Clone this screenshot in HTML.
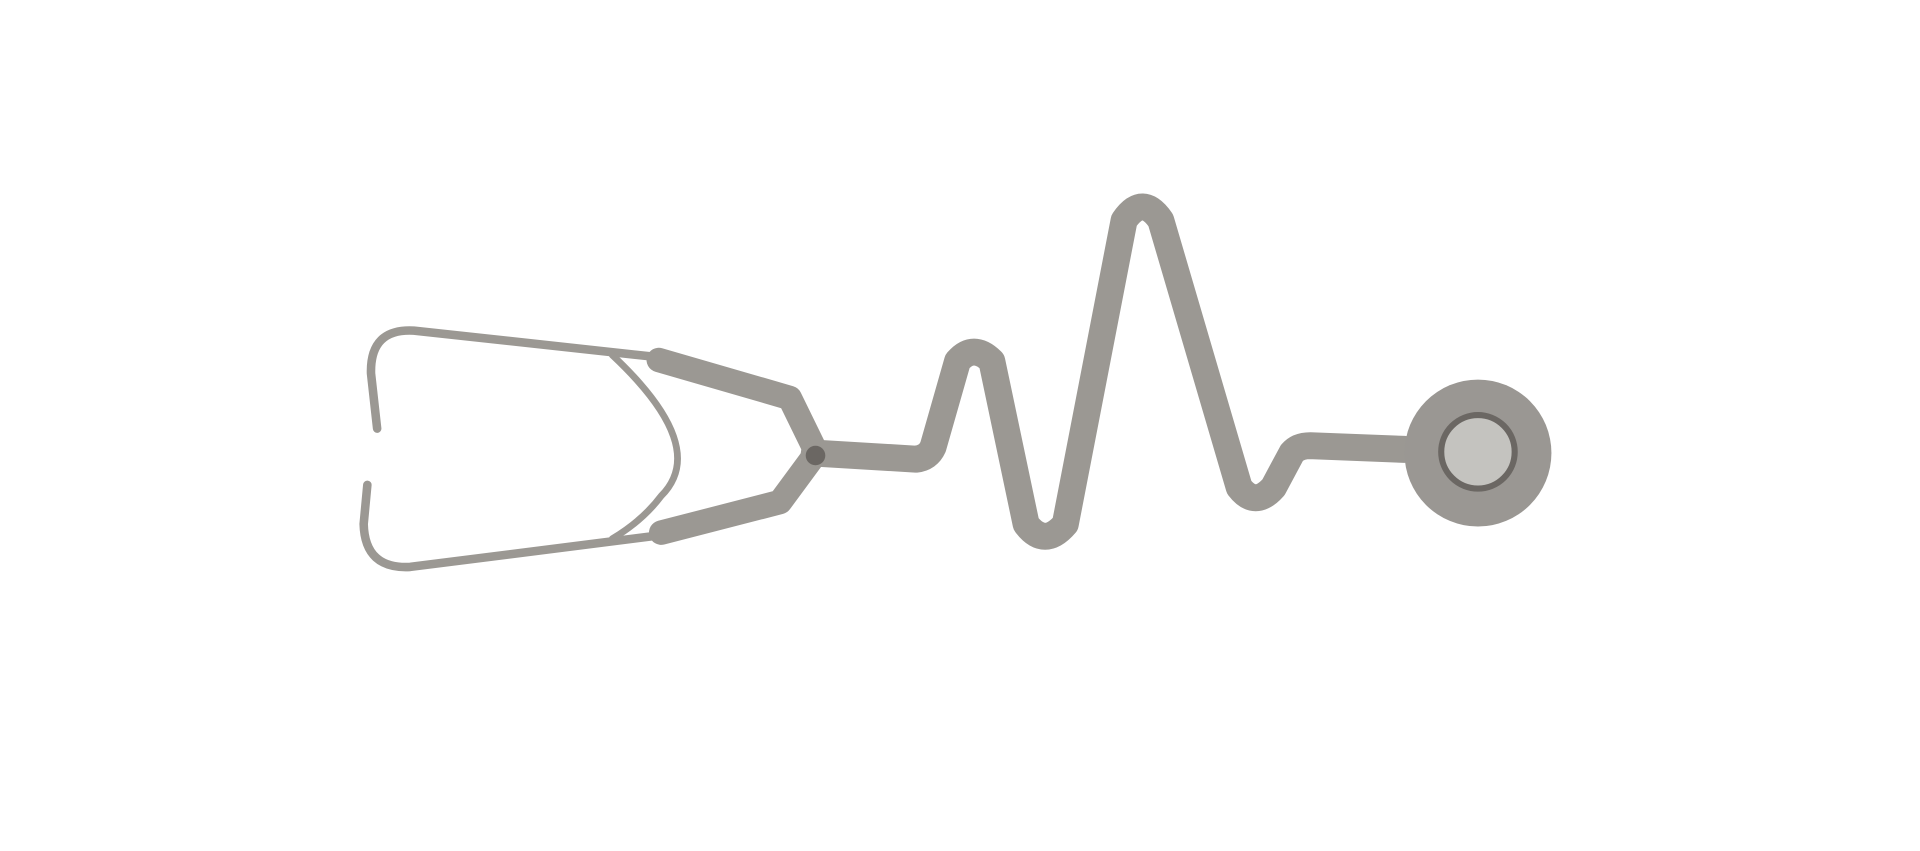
<!DOCTYPE html>
<html>
<head>
<meta charset="utf-8">
<style>
html,body{margin:0;padding:0;background:#fff;width:1920px;height:851px;overflow:hidden;}
svg{display:block;}
</style>
</head>
<body>
<svg width="1920" height="851" viewBox="0 0 1568 695" preserveAspectRatio="none">
  <g fill="none" stroke="#9b9893" stroke-linecap="round" stroke-linejoin="round">
    <path d="M308,350 L303,305 Q302,268 338,270 L540,292" stroke-width="7"/>
    <path d="M300,396 L297,428 Q298,465 335,463 L540,437" stroke-width="7"/>
    <path d="M500,290 Q580,365 540,405 Q525,425 500,440" stroke-width="5.5"/>
    <path d="M538,294 L645,325 L665,366" stroke-width="20"/>
    <path d="M540,435 L637,410 L665,372" stroke-width="20"/>
    <path d="M665,370 L748,375 Q758,374 762,365 L782,295 Q795,280 810,295 L838,428 Q853,448 870,428 L918,180 Q933,158 948,180 L1012,398 Q1025,415 1040,398 L1055,370 Q1060,364 1070,364 L1147,367" stroke-width="22"/>
  </g>
  <circle cx="1207" cy="370" r="60" fill="#9a9793"/>
  <circle cx="1207" cy="369" r="30" fill="#c4c3bf" stroke="#6b6763" stroke-width="5"/>
  <circle cx="666" cy="372" r="8" fill="#6b6763"/>
</svg>
</body>
</html>
